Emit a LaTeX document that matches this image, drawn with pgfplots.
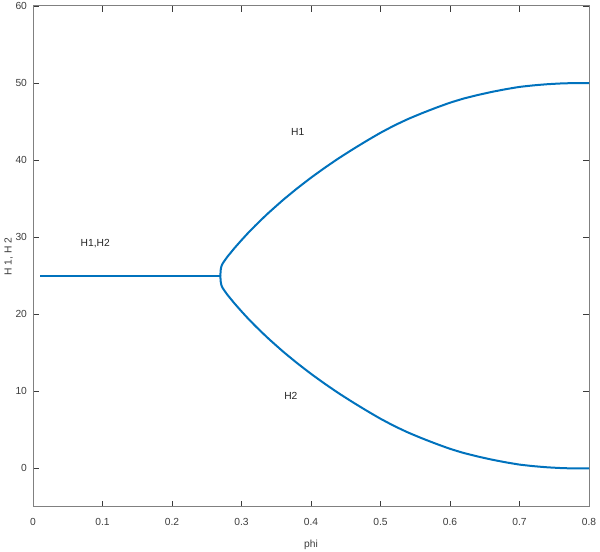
\documentclass[border=0pt]{standalone}
\usepackage{pgfplots}
\pgfplotsset{compat=1.18}
\usepackage{fontspec}
\setmainfont{Liberation Sans}
\usetikzlibrary{calc}
\definecolor{mblue}{RGB}{0,114,189}
\definecolor{axgray}{RGB}{128,128,128}
\definecolor{txtgray}{RGB}{60,60,60}
\begin{document}
\begin{tikzpicture}
\begin{axis}[
  scale only axis,
  width=417pt, height=375.75pt,
  xmin=0, xmax=0.8, ymin=-5, ymax=60,
  xtick={0,0.1,...,0.8},
  ytick={0,10,...,60},
  xticklabels={0,0.1,0.2,0.3,0.4,0.5,0.6,0.7,0.8},
  tick align=inside,
  major tick length=4.5pt,
  axis line style={axgray, line width=0.75pt},
  every tick/.style={txtgray, line width=0.6pt},
  tick label style={font=\fontsize{7.7}{9}\selectfont, text=txtgray},
  /pgf/number format/assume math mode=true,
  xticklabel style={yshift=-5pt},
  yticklabel style={xshift=-1pt},
  xlabel={phi}, ylabel={H 1, H 2},
  label style={font=\fontsize{7.7}{9}\selectfont, text=txtgray},
  xlabel style={yshift=-4pt},
  ylabel style={yshift=-5pt},
  clip=false,
]
\addplot[mblue, line width=1.5pt] coordinates {
 (0.0101,25) (0.2696,25)
};
\addplot[mblue, line width=1.5pt, smooth, tension=0.3] coordinates {
 (0.2696,25) (0.2700,25.7) (0.2710,26.2) (0.2730,26.6) (0.2760,27.0) (0.280,27.5)
 (0.285,28.05) (0.290,28.6) (0.300,29.62) (0.310,30.6) (0.320,31.52) (0.330,32.4)
 (0.340,33.25) (0.360,34.85) (0.380,36.33) (0.400,37.72) (0.420,39.02) (0.440,40.25)
 (0.460,41.4) (0.480,42.5) (0.500,43.55) (0.520,44.5) (0.540,45.35) (0.560,46.1)
 (0.580,46.8) (0.600,47.45) (0.620,48.0) (0.640,48.45) (0.660,48.85) (0.680,49.2)
 (0.700,49.5) (0.720,49.7) (0.740,49.85) (0.760,49.95) (0.780,50.0) (0.800,50.0)
};
\addplot[mblue, line width=1.5pt, smooth, tension=0.3] coordinates {
 (0.2696,25) (0.2700,24.3) (0.2710,23.8) (0.2730,23.4) (0.2760,23.0) (0.280,22.5)
 (0.285,21.95) (0.290,21.4) (0.300,20.38) (0.310,19.4) (0.320,18.48) (0.330,17.6)
 (0.340,16.75) (0.360,15.15) (0.380,13.67) (0.400,12.28) (0.420,10.98) (0.440,9.75)
 (0.460,8.6) (0.480,7.5) (0.500,6.45) (0.520,5.5) (0.540,4.65) (0.560,3.9)
 (0.580,3.2) (0.600,2.55) (0.620,2.0) (0.640,1.55) (0.660,1.15) (0.680,0.8)
 (0.700,0.5) (0.720,0.3) (0.740,0.15) (0.760,0.05) (0.780,0.0) (0.800,0.0)
};
\node[font=\fontsize{7.7}{9}\selectfont, text=black!85] at (axis cs:0.381,43.6) {H1};
\node[font=\fontsize{7.7}{9}\selectfont, text=black!85] at (axis cs:0.0895,29.2) {H1,H2};
\node[font=\fontsize{7.7}{9}\selectfont, text=black!85] at (axis cs:0.371,9.35) {H2};
\coordinate (bl) at (rel axis cs:0,0);
\coordinate (tr) at (rel axis cs:1,1);
\end{axis}
\pgfresetboundingbox
\path ($(bl)+(-24.75pt,-33.75pt)$) rectangle ($(tr)+(8.25pt,4.5pt)$);
\end{tikzpicture}
\end{document}
